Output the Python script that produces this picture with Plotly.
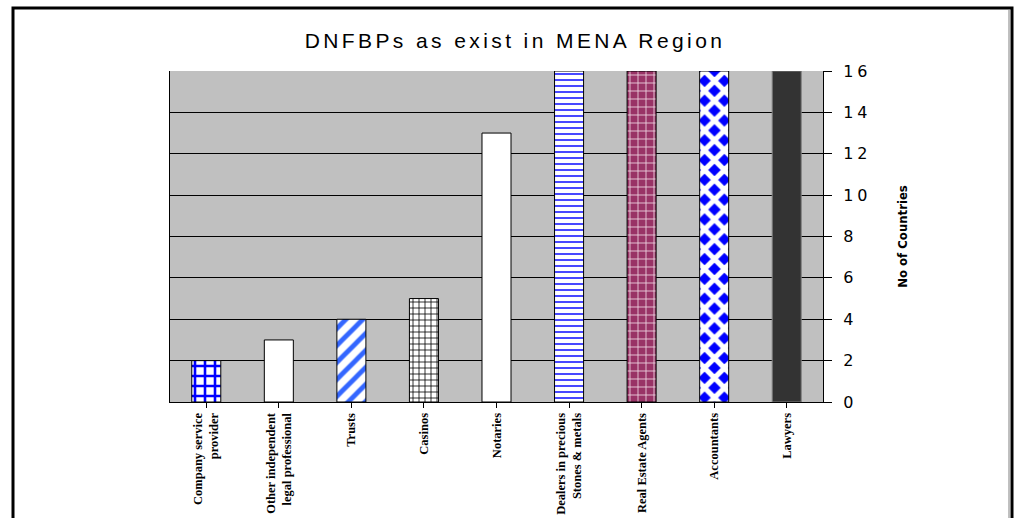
import plotly.graph_objects as go

categories = [
    "Company service<br>provider",
    "Other independent<br>legal professional",
    "Trusts",
    "Casinos",
    "Notaries",
    "Dealers in precious<br>Stones & metals",
    "Real Estate Agents",
    "Accountants",
    "Lawyers",
]
values = [2, 3, 4, 5, 13, 16, 16, 16, 16]
y_ticks = [0, 2, 4, 6, 8, 10, 12, 14, 16]

# visual styles per bar (pattern approximations of the Excel fills)
fill_colors = ["#FFFFFF", "#FFFFFF", "#FFFFFF", "#FFFFFF", "#FFFFFF",
               "#FFFFFF", "#993366", "#0000FF", "#333333"]
pat_shapes = ["+", "", "/", "+", "", "-", "+", "x", ""]
pat_fg = ["#0000FF", "#000000", "#3366FF", "#000000", "#000000",
          "#3333FF", "#F0D8E4", "#FFFFFF", "#333333"]
pat_size = [10, 8, 12, 6, 8, 6, 8, 14, 8]
pat_solid = [0.45, 0.3, 0.4, 0.25, 0.3, 0.3, 0.2, 0.6, 0.3]
line_colors = ["#000000"] * 8 + ["#808080"]

fig = go.Figure()
for i, cat in enumerate(categories):
    marker = dict(color=fill_colors[i], line=dict(color=line_colors[i], width=1))
    if pat_shapes[i]:
        marker["pattern"] = dict(
            shape=pat_shapes[i],
            fgcolor=pat_fg[i],
            bgcolor=fill_colors[i],
            fgopacity=1,
            size=pat_size[i],
            solidity=pat_solid[i],
            fillmode="replace",
        )
    fig.add_trace(go.Bar(
        x=[i], y=[values[i]], width=0.4,
        marker=marker, showlegend=False, hoverinfo="skip",
    ))

W, H = 1014, 518
L, R, T, B = 170, 191, 71, 116
pw, ph = W - L - R, H - T - B


def px_x(x):
    return (x - L) / pw


def px_y(y):
    return (H - B - y) / ph


fig.update_layout(
    width=W, height=H,
    barmode="overlay",
    margin=dict(l=L, r=R, t=T, b=B, autoexpand=False),
    paper_bgcolor="#FFFFFF",
    plot_bgcolor="#C0C0C0",
    title=dict(
        text='<span style="letter-spacing:3.4px">DNFBPs as exist in MENA Region</span>',
        font=dict(family="Liberation Sans, Arial, sans-serif", size=21, color="#000000"),
        x=515 / W, xanchor="center", xref="container",
        y=1 - 41 / H, yanchor="middle", yref="container",
    ),
    xaxis=dict(
        range=[-0.5, len(categories) - 0.5],
        tickmode="array",
        tickvals=list(range(len(categories))),
        ticktext=categories,
        tickangle=-90,
        tickson="boundaries",
        ticks="outside", ticklen=5, tickcolor="#000000",
        showline=True, linecolor="#000000", linewidth=1,
        showgrid=False, zeroline=False, automargin=False,
        tickfont=dict(family="Liberation Serif, Times New Roman, serif", size=12.5,
                      color="#000000", weight="bold"),
    ),
    yaxis=dict(
        range=[0, 16],
        side="right",
        tickmode="array",
        tickvals=y_ticks,
        ticktext=['<span style="letter-spacing:4px">%d</span>' % v for v in y_ticks],
        ticks="outside", ticklen=8, tickcolor="#000000",
        ticklabelstandoff=8,
        showline=True, linecolor="#000000", linewidth=1, mirror=True,
        showgrid=True, gridcolor="#000000", gridwidth=1,
        zeroline=False, automargin=False,
        tickfont=dict(family="DejaVu Sans, Arial, sans-serif", size=16, color="#000000"),
        title=dict(
            text="No of Countries",
            font=dict(family="Liberation Sans Narrow, DejaVu Sans Condensed, Arial Narrow, sans-serif",
                      size=13, color="#000000", weight="bold"),
            standoff=27,
        ),
    ),
    shapes=[
        dict(type="rect", xref="paper", yref="paper",
             x0=px_x(13), x1=px_x(1012), y0=px_y(540), y1=px_y(8),
             line=dict(color="#000000", width=3), fillcolor="rgba(0,0,0,0)", layer="above"),
        dict(type="line", xref="paper", yref="paper",
             x0=px_x(1009), x1=px_x(1009), y0=px_y(540), y1=px_y(10),
             line=dict(color="#808080", width=1), layer="above"),
    ],
)

fig.write_html(
    "out.html",
    config={"displayModeBar": False},
    post_script="document.body.style.margin='0';document.body.style.overflow='hidden';",
)
